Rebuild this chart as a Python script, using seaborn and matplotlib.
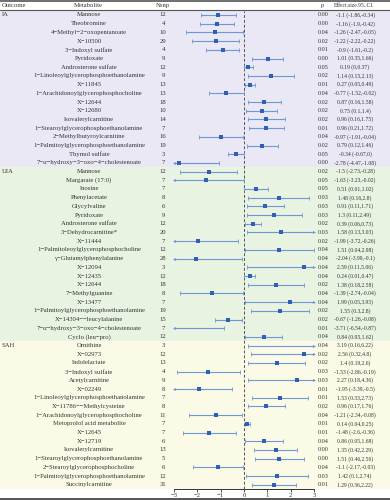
import matplotlib
matplotlib.use("Agg")
import matplotlib.pyplot as plt
from matplotlib.lines import Line2D
import seaborn as sns
import pandas as pd
import numpy as np

sns.set_theme(style="white")
plt.rcParams['font.family'] = ['Liberation Serif', 'DejaVu Serif']

# ---------------- data ----------------
ia_metabolites = ["Mannose", "Theobromine", "4−Methyl−2−oxopentanoate", "X−10500", "3−Indoxyl sulfate",
                  "Pyridoxate", "Androsterone sulfate", "1−Linoleoylglycerophosphoethanolamine", "X−11845",
                  "1−Arachidonoylglycerophosphocholine", "X−12644", "X−12680", "Isovalerylcarnitine",
                  "1−Stearoylglycerophosphoethanolamine", "2−Methylbutyroylcarnitine",
                  "1−Palmitoylglycerophosphoethanolamine", "Thymol sulfate", "7−α−hydroxy−3−oxo−4−cholestenoate"]
ia_nsnp = [12, 4, 10, 29, 4, 9, 12, 9, 13, 13, 18, 10, 14, 7, 16, 19, 3, 7]
ia_p = ["0.00", "0.00", "0.04", "0.02", "0.01", "0.00", "0.05", "0.02", "0.01", "0.04", "0.02", "0.02",
        "0.02", "0.01", "0.04", "0.02", "0.05", "0.00"]
ia_est = [-1.1, -1.16, -1.26, -1.22, -0.9, 1.01, 0.19, 1.14, 0.27, -0.77, 0.87, 0.75, 0.96, 0.96, -0.97, 0.79, -0.34, -2.78]
ia_lo = [-1.86, -1.9, -2.47, -2.22, -1.61, 0.35, 0, 0.15, 0.05, -1.52, 0.16, 0.1, 0.16, 0.21, -1.91, 0.12, -0.67, -4.47]
ia_hi = [-0.34, -0.42, -0.05, -0.22, -0.2, 1.66, 0.37, 2.13, 0.49, -0.02, 1.58, 1.4, 1.75, 1.72, -0.04, 1.46, 0, -1.08]

uia_metabolites = ["Mannose", "Margarate (17:0)", "Inosine", "Phenylacetate", "Glycylvaline", "Pyridoxate",
                   "Androsterone sulfate", "3−Dehydrocarnitine*", "X−11444",
                   "1−Palmitoleoylglycerophosphocholine", "γ−Glutamylphenylalanine", "X−12094", "X−12435",
                   "X−12644", "7−Methylguanine", "X−13477", "1−Palmitoylglycerophosphoethanolamine",
                   "X−14304−−leucylalanine", "7−α−hydroxy−3−oxo−4−cholestenoate", "Cyclo (leu−pro)"]
uia_nsnp = [12, 7, 7, 8, 6, 9, 12, 20, 7, 12, 28, 3, 12, 18, 8, 7, 19, 15, 7, 12]
uia_p = ["0.02", "0.05", "0.05", "0.03", "0.03", "0.03", "0.02", "0.03", "0.02", "0.04", "0.04", "0.04",
         "0.04", "0.02", "0.04", "0.04", "0.02", "0.02", "0.01", "0.04"]
uia_est = [-1.5, -1.63, 0.51, 1.48, 0.91, 1.3, 0.39, 1.58, -1.99, 1.51, -2.04, 2.59, 0.24, 1.38, -1.39, 1.99, 1.55, -0.67, -3.71, 0.84]
uia_lo = [-2.73, -3.23, 0.01, 0.16, 0.11, 0.11, 0.06, 0.13, -3.72, 0.04, -3.99, 0.11, 0.01, 0.18, -2.74, 0.05, 0.3, -1.26, -6.54, 0.05]
uia_hi = [-0.28, -0.02, 1.02, 2.8, 1.71, 2.49, 0.73, 3.03, -0.26, 2.98, -0.1, 5.06, 0.47, 2.58, -0.04, 3.93, 2.8, -0.08, -0.87, 1.62]

sah_metabolites = ["Ornithine", "X−02973", "Indolelactate", "3−Indoxyl sulfate", "Acetylcarnitine", "X−02249",
                   "1−Linoleoylglycerophosphoethanolamine", "X−11786−−Methylcysteine",
                   "1−Arachidonoylglycerophosphocholine", "Metoprolol acid metabolite", "X−12645", "X−12719",
                   "Isovalerylcarnitine", "1−Stearoylglycerophosphoethanolamine",
                   "2−Stearoylglycerophosphocholine", "1−Palmitoylglycerophosphoethanolamine", "Succinylcarnitine"]
sah_nsnp = [3, 12, 13, 4, 9, 8, 7, 8, 11, 7, 7, 6, 13, 5, 6, 12, 31]
sah_p = ["0.04", "0.02", "0.02", "0.03", "0.03", "0.01", "0.01", "0.02", "0.04", "0.01", "0.01", "0.04",
         "0.00", "0.00", "0.04", "0.03", "0.01"]
sah_est = [3.19, 2.56, 1.4, -1.53, 2.27, -1.95, 1.53, 0.96, -1.21, 0.14, -1.48, 0.86, 1.35, 1.51, -1.1, 1.42, 1.29]
sah_lo = [0.16, 0.32, 0.19, -2.86, 0.18, -3.39, 0.33, 0.17, -2.34, 0.04, -2.6, 0.05, 0.42, 0.46, -2.17, 0.1, 0.36]
sah_hi = [6.22, 4.8, 2.6, -0.19, 4.36, -0.5, 2.73, 1.76, -0.08, 0.25, -0.36, 1.68, 2.29, 2.56, -0.03, 2.74, 2.22]

outcome_names = ["IA", "UIA", "SAH"]
band_colors = ["#E9E8F4", "#E9F3E2", "#FAFAE7"]
x_ticks = [-3, -2, -1, 0, 1, 2, 3]

groups = [
    (ia_metabolites, ia_nsnp, ia_p, ia_est, ia_lo, ia_hi),
    (uia_metabolites, uia_nsnp, uia_p, uia_est, uia_lo, uia_hi),
    (sah_metabolites, sah_nsnp, sah_p, sah_est, sah_lo, sah_hi),
]
frames = []
for name, g in zip(outcome_names, groups):
    frames.append(pd.DataFrame({"outcome": name, "metabolite": g[0], "nsnp": g[1], "p": g[2],
                                "est": g[3], "lo": g[4], "hi": g[5]}))
df = pd.concat(frames, ignore_index=True)
df["row"] = np.arange(len(df))
n = len(df)


def fmt(v, minus="−"):
    return f"{v:g}".replace("-", minus)


df["label"] = [f"{fmt(e, '-')} ({fmt(l, '-')},{fmt(h, '-')})" for e, l, h in zip(df.est, df.lo, df.hi)]

# ---------------- layout ----------------
W, H = 390, 500
fig = plt.figure(figsize=(W / 100, H / 100), dpi=100)
fig.patch.set_facecolor("white")
top_px, bot_px = 10.65, 489.15
fs = 4.8
fs_p = 4.4
fs_eff = 4.1
tcol = "#333333"

bg = fig.add_axes([0, 1 - bot_px / H, 1, (bot_px - top_px) / H], zorder=0)
bg.set_xlim(0, W)
bg.set_ylim(n - 0.5, -0.5)
bg.axis("off")

start = 0
for name, col in zip(outcome_names, band_colors):
    cnt = int((df.outcome == name).sum())
    bg.axhspan(start - 0.5, start + cnt - 0.5, color=col, lw=0)
    bg.text(2, start, name, ha="left", va="center", fontsize=fs, color=tcol)
    start += cnt

for _, r in df.iterrows():
    bg.text(89, r.row, r.metabolite, ha="center", va="center", fontsize=fs, color=tcol)
    bg.text(163, r.row, str(r.nsnp), ha="center", va="center", fontsize=fs, color=tcol)
    bg.text(323, r.row, r.p, ha="center", va="center", fontsize=fs_p, color=tcol)
    bg.text(355, r.row, r.label, ha="center", va="center", fontsize=fs_eff, color=tcol)

# header
hy = 1 - 5.2 / H
for x, t, ha, f in [(2, "Outcome", "left", fs), (88, "Metabolite", "center", fs), (163, "Nsnp", "center", fs),
                    (322, "p", "center", fs_p), (354, "Effect.size.95..CI.", "center", fs_eff)]:
    fig.text(x / W, hy, t, ha=ha, va="center", fontsize=f, color=tcol)
for y, lw in [(0.6, 1.2), (10.4, 0.8), (498.8, 1.4)]:
    fig.add_artist(Line2D([0, 1], [1 - y / H, 1 - y / H], transform=fig.transFigure,
                          color="#555555", lw=lw))

# forest axes
ax = fig.add_axes([174 / W, 1 - bot_px / H, 140 / W, (bot_px - top_px) / H], zorder=2)
ax.patch.set_alpha(0)
ax.set_xlim(-3, 3)
ax.set_ylim(n - 0.5, -0.5)

line_col = "#6F97D6"
pt_col = "#2F5FB8"
lo_c = df.lo.clip(-3, 3)
hi_c = df.hi.clip(-3, 3)
ax.hlines(df.row, lo_c, hi_c, color=line_col, lw=0.8, zorder=2)
ax.axvline(0, color="#555555", lw=0.7, ls=(0, (3, 2)), zorder=1)

# caps / arrows
cap_l = df[df.lo >= -3]
cap_r = df[df.hi <= 3]
ax.scatter(cap_l.lo, cap_l.row, marker="|", s=5, color=line_col, lw=0.6, clip_on=False, zorder=3)
ax.scatter(cap_r.hi, cap_r.row, marker="|", s=5, color=line_col, lw=0.6, clip_on=False, zorder=3)
arr_l = df[df.lo < -3]
arr_r = df[df.hi > 3]
ax.scatter(np.full(len(arr_l), -3), arr_l.row, marker="<", s=5, color=line_col, lw=0, clip_on=False, zorder=3)
ax.scatter(np.full(len(arr_r), 3), arr_r.row, marker=">", s=5, color=line_col, lw=0, clip_on=False, zorder=3)

sns.scatterplot(data=df, x="est", y="row", marker="s", s=5, color=pt_col, linewidth=0, ax=ax, zorder=4,
                legend=False)

ax.set_xlabel("")
ax.set_ylabel("")
ax.set_yticks([])
ax.set_xticks(x_ticks)
ax.set_xticklabels([fmt(t) for t in x_ticks])
for s in ["top", "right", "left"]:
    ax.spines[s].set_visible(False)
ax.spines["bottom"].set_color("#333333")
ax.spines["bottom"].set_linewidth(0.7)
ax.tick_params(axis="x", bottom=True, length=2.5, width=0.6, color="#333333", labelsize=fs,
               labelcolor=tcol, pad=0.5)

fig.savefig("out.png", dpi=100)
